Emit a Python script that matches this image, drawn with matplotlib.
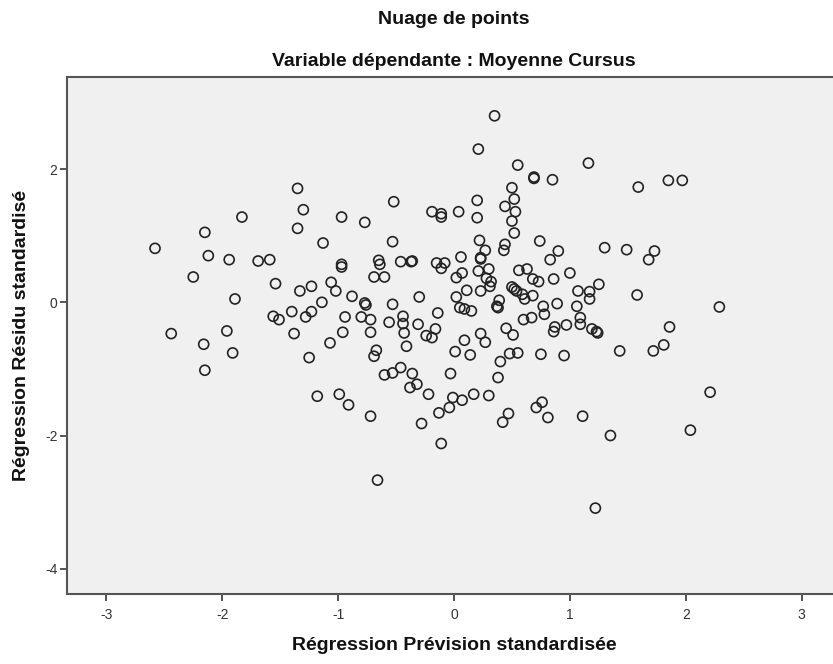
import matplotlib
matplotlib.use("Agg")
import matplotlib.pyplot as plt

plt.rcParams['font.family'] = ['Liberation Sans', 'DejaVu Sans']

# Standardized predicted values (x) and standardized residuals (y)
pred_std = [
    -2.58, -2.44, -2.25, -2.15, -2.12, -2.16, -2.15, -1.96, -1.94, -1.91,
    -1.83, -1.69, -1.59, -1.54, -1.89, -1.56, -1.51, -1.40, -1.38, -1.35,
    -1.30, -1.35, -1.33, -1.28, -1.23, -1.23, -1.25, -1.18, -1.14, -1.13,
    -1.06, -1.07, -1.02, -0.99, -0.97, -0.97, -0.97, -0.96, -0.94, -0.91,
    -0.88, -0.80, -0.77, -0.76, -0.77, -0.72, -0.72, -0.72, -0.69, -0.60,
    -0.69, -0.67, -0.66, -0.65, -0.64, -0.60, -0.56, -0.53, -0.53, -0.53,
    -0.52, -0.46, -0.46, -0.44, -0.44, -0.43, -0.41, -0.37, -0.36, -0.38,
    -0.32, -0.30, -0.31, -0.28,
    -0.36, -0.19, -0.11, -0.11, 0.04, 0.20, 0.20, 0.21, 0.35, 0.22,
    0.27, 0.23, 0.23, -0.15, -0.08, -0.11, 0.06, 0.21, 0.30, 0.07,
    0.02, 0.28, 0.32, 0.31, 0.11, 0.23, 0.02, 0.05, 0.09, 0.15,
    -0.14, -0.16, -0.24, -0.19, 0.09, 0.23, 0.27, -0.22, -0.01, 0.07,
    -0.04, -0.13, -0.11, 0.01, 0.14, -0.03, 0.17, 0.30, 0.38, 0.40,
    0.48, 0.55, 0.47, 0.42, 0.39, 0.37, 0.38, 0.44, 0.44, 0.43,
    0.50, 0.52, 0.53, 0.50, 0.52, 0.55, 0.69, 0.69, 0.85, 1.16,
    0.74, 0.90, 0.83, 0.56, 0.63, 0.68, 0.73, 0.86, 1.00, 0.50,
    0.52, 0.54, 0.59, 0.61, 0.68, 0.77, 0.78, 0.89, 1.06, 1.07,
    1.17, 1.17, 1.25, 0.60, 0.67, 0.45, 0.51, 0.87, 0.86, 0.97,
    1.09, 1.09, 1.19, 1.23, 1.24, 0.75, 0.95, 0.76, 0.71, 0.81,
    1.11, 1.22, 1.30, 1.49, 1.73, 1.68, 1.58, 1.59, 1.85, 1.97,
    1.86, 1.43, 1.72, 1.81, 1.35, 2.04, 2.21, 2.29,
]
resid_std = [
    0.81, -0.47, 0.38, 1.05, 0.70, -0.63, -1.02, -0.43, 0.64, -0.76,
    1.28, 0.62, 0.64, 0.28, 0.05, -0.21, -0.26, -0.14, -0.47, 1.71,
    1.39, 1.11, 0.17, -0.22, -0.14, 0.24, -0.83, -1.41, 0.00, 0.89,
    0.30, -0.61, 0.17, -1.38, 0.57, 0.53, 1.28, -0.45, -0.22, -1.54,
    0.09, -0.22, -0.01, -0.04, 1.20, -1.71, -0.26, -0.45, 0.38, 0.38,
    -0.81, -0.72, -2.67, 0.63, 0.57, -1.09, -0.30, -1.06, -0.03, 0.91,
    1.51, 0.61, -0.98, -0.21, -0.32, -0.46, -0.66, 0.61, -1.07, -1.28,
    -1.23, 0.08, -0.33, -1.82,
    0.62, 1.36, 1.33, 1.28, 1.36, 1.53, 1.27, 2.30, 2.80, 0.93,
    0.78, 0.67, 0.65, 0.59, 0.59, 0.51, 0.68, 0.47, 0.50, 0.44,
    0.37, 0.36, 0.31, 0.24, 0.18, 0.17, 0.08, -0.08, -0.10, -0.13,
    -0.16, -0.40, -0.50, -0.53, -0.57, -0.47, -0.60, -1.38, -1.43, -1.47,
    -1.58, -1.66, -2.12, -0.74, -0.79, -1.07, -1.38, -1.40, -1.13, -0.89,
    -0.77, -0.76, -1.67, -1.80, 0.03, -0.06, -0.08, 1.44, 0.87, 0.78,
    1.72, 1.55, 1.36, 1.22, 1.04, 2.06, 1.88, 1.86, 1.84, 2.09,
    0.92, 0.77, 0.64, 0.48, 0.50, 0.35, 0.31, 0.35, 0.44, 0.23,
    0.20, 0.17, 0.12, 0.05, 0.10, -0.06, -0.18, -0.02, -0.06, 0.17,
    0.16, 0.05, 0.27, -0.26, -0.23, -0.39, -0.49, -0.37, -0.44, -0.34,
    -0.23, -0.33, -0.40, -0.44, -0.46, -0.78, -0.80, -1.50, -1.58, -1.73,
    -1.71, -3.09, 0.82, 0.79, 0.77, 0.64, 0.11, 1.73, 1.83, 1.83,
    -0.37, -0.73, -0.73, -0.64, -2.00, -1.92, -1.35, -0.07,
]

x_ticks = [-3, -2, -1, 0, 1, 2, 3]
y_ticks = [-4, -2, 0, 2]

W, H = 833, 664
fig = plt.figure(figsize=(W / 100, H / 100), dpi=100)
fig.patch.set_facecolor('white')

# plot frame in pixels: left 67, top 77, bottom 594; right edge runs past the canvas
left, top, right, bottom = 67.3, 76.7, 840.7, 594.3
ax = fig.add_axes([left / W, 1 - bottom / H, (right - left) / W, (bottom - top) / H])
ax.set_facecolor('#f0f0f0')

ax.scatter(pred_std, resid_std, s=52, facecolors='none', edgecolors='#222222',
           linewidths=1.2, zorder=3)

ax.set_xlim(-3.337, 3.337)
ax.set_ylim(-4.384, 3.387)
ax.set_xticks(x_ticks)
ax.set_yticks(y_ticks)
ax.set_xticklabels([str(t) for t in x_ticks])
ax.set_yticklabels([str(t) for t in y_ticks])

for side in ['left', 'bottom', 'top', 'right']:
    ax.spines[side].set_color('#555555')
    ax.spines[side].set_linewidth(1.5)

ax.tick_params(axis='both', direction='out', length=5, width=1.4,
               color='#555555', labelcolor='#333333', labelsize=10)
ax.tick_params(axis='x', pad=5)
ax.tick_params(axis='y', pad=2)

cx = ((left + right) / 2) / W
fig.text(cx, 1 - 20 / H, 'Nuage de points', ha='center', va='center',
         fontsize=14, fontweight='bold', color='#111111')
fig.text(cx, 1 - 62 / H, 'Variable dépendante : Moyenne Cursus', ha='center',
         va='center', fontsize=14, fontweight='bold', color='#111111')
fig.text(cx, 1 - 645 / H, 'Régression Prévision standardisée', ha='center',
         va='center', fontsize=14, fontweight='bold', color='#111111')
fig.text(22 / W, 1 - ((top + bottom) / 2) / H, 'Régression Résidu standardisé',
         ha='center', va='center', rotation=90, fontsize=14, fontweight='bold',
         color='#111111')

fig.savefig('out.png', dpi=100, facecolor='white')
